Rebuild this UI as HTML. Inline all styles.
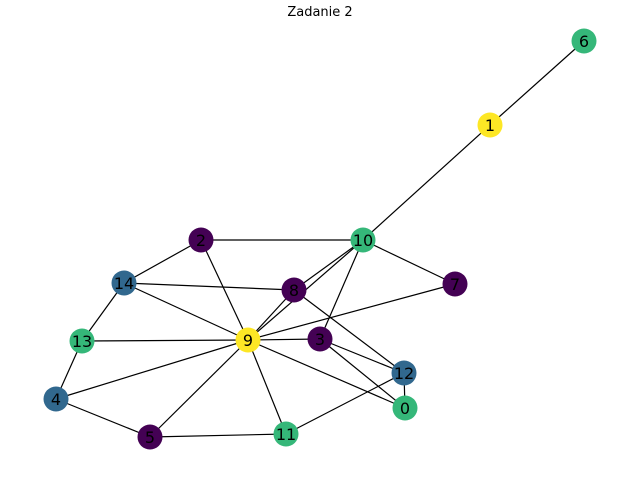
<!DOCTYPE html>
<html><head><meta charset="utf-8"><style>
body{margin:0;background:#fff}
svg{display:block}
text{font-family:"DejaVu Sans","Liberation Sans",sans-serif}
</style></head><body>
<svg id="g" width="640" height="480">
<text x="320" y="16" text-anchor="middle" font-size="13">Zadanie 2</text>
<g id="edges"></g><g id="nodes"></g>
</svg>
<script>
const nodeIds=[0,1,2,3,4,5,6,7,8,9,10,11,12,13,14];
const nodeX=[405,490,201,320,56,150,584,455,294,248,363,286,404,82,124];
const nodeY=[408,125,240,339,399,437,41,284,290,340,240,434,373,341,283];
const nodeColor=["#35b779","#fde725","#440154","#440154","#31688e","#440154","#35b779","#440154","#440154","#fde725","#35b779","#35b779","#31688e","#35b779","#31688e"];
const edgeFrom=[6,1,10,10,10,10,10,2,2,14,14,14,13,13,4,4,5,5,11,11,9,9,9,8,8,3,3,12];
const edgeTo  =[1,10,2,7,8,9,3,14,9,8,9,13,9,4,9,5,9,11,9,12,7,3,0,9,12,12,0,0];
const ns="http://www.w3.org/2000/svg";
const eg=document.getElementById('edges'),ng=document.getElementById('nodes');
for(let k=0;k<edgeFrom.length;k++){
 const a=edgeFrom[k],b=edgeTo[k];
 const l=document.createElementNS(ns,'line');
 l.setAttribute('x1',nodeX[a]);l.setAttribute('y1',nodeY[a]);
 l.setAttribute('x2',nodeX[b]);l.setAttribute('y2',nodeY[b]);
 l.setAttribute('stroke','#000');l.setAttribute('stroke-width','1.2');
 
 
 eg.appendChild(l);
}
for(const i of nodeIds){
 const c=document.createElementNS(ns,'circle');
 c.setAttribute('cx',nodeX[i]);c.setAttribute('cy',nodeY[i]);c.setAttribute('r',12.5);
 c.setAttribute('fill',nodeColor[i]);
 
 
 ng.appendChild(c);
 const t=document.createElementNS(ns,'text');
 t.setAttribute('x',nodeX[i]);t.setAttribute('y',nodeY[i]+6);
 t.setAttribute('text-anchor','middle');t.setAttribute('font-size','16');
 t.textContent=i;
 
 
 ng.appendChild(t);
}
</script>
</body></html>
